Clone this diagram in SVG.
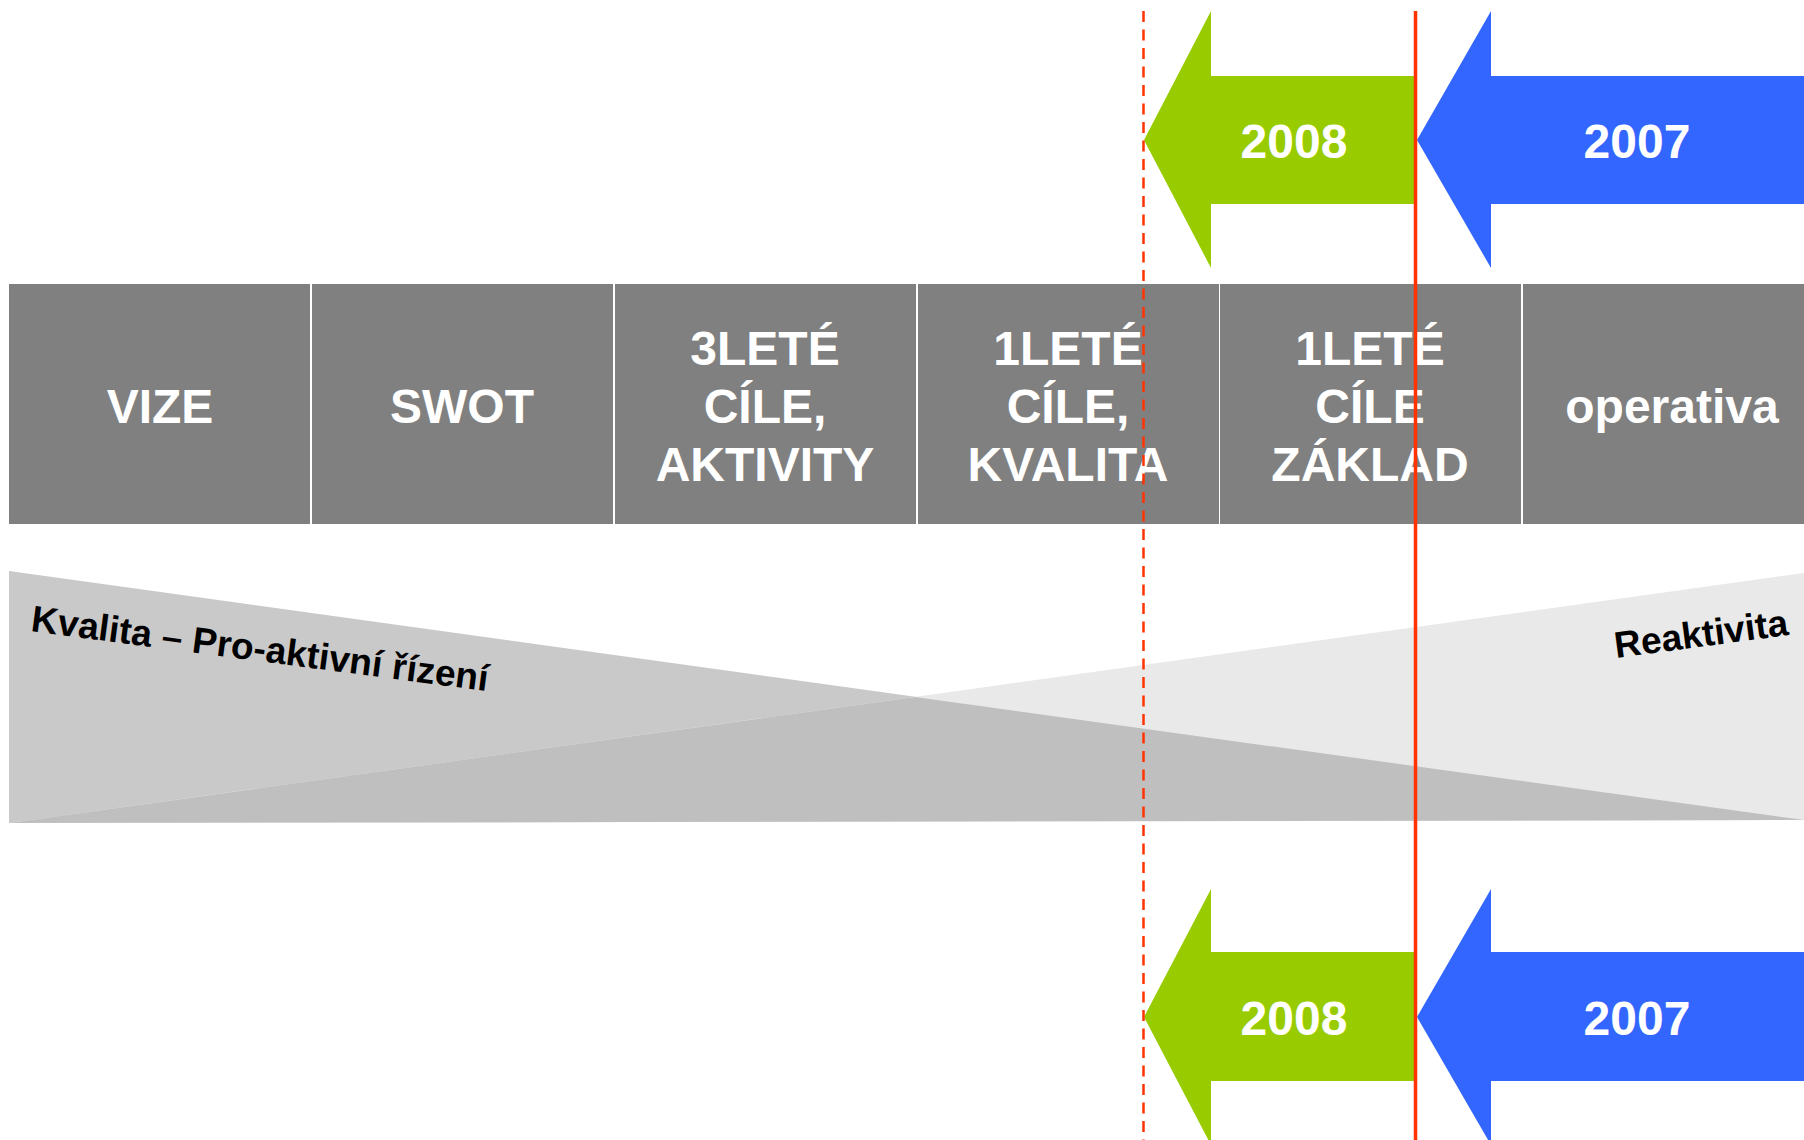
<svg xmlns="http://www.w3.org/2000/svg" width="1804" height="1140" viewBox="0 0 1804 1140">
<style>
.box{fill:#808080}
.bt{font-family:"Liberation Sans",Arial,sans-serif;font-weight:bold;font-size:48px;fill:#ffffff;text-anchor:middle}
.at{font-family:"Liberation Sans",Arial,sans-serif;font-weight:bold;font-size:48px;fill:#ffffff;text-anchor:middle}
.lt{font-family:"Liberation Sans",Arial,sans-serif;font-weight:bold;font-size:37px;fill:#000000}
.green{fill:#99CC00}
.blue{fill:#3366FF}
</style>
<rect width="1804" height="1140" fill="#ffffff"/>
<g id="wedges">
<polygon points="9,571 9,823 1804,820" fill="#C9C9C9"/>
<polygon points="9,823 1804,573 1804,820" fill="#E9E9E9"/>
<polygon points="9,823 915,697 1804,820" fill="#BFBFBF"/>
<text class="lt" x="30" y="631" transform="rotate(7.5 30 631)">Kvalita – Pro-aktivní řízení</text>
<text class="lt" x="1616" y="658" transform="rotate(-7.6 1616 658)">Reaktivita</text>
</g>
<g id="box-vize"><rect class="box" x="9" y="284" width="301" height="240"/><text class="bt" x="160" y="423">VIZE</text></g>
<g id="box-swot"><rect class="box" x="312" y="284" width="301" height="240"/><text class="bt" x="462" y="423">SWOT</text></g>
<g id="box-3lete"><rect class="box" x="615" y="284" width="301" height="240"/><text class="bt" x="765" y="365">3LETÉ</text><text class="bt" x="765" y="423">CÍLE,</text><text class="bt" x="765" y="481">AKTIVITY</text></g>
<g id="box-1lete-kvalita"><rect class="box" x="918" y="284" width="301" height="240"/><text class="bt" x="1068" y="365">1LETÉ</text><text class="bt" x="1068" y="423">CÍLE,</text><text class="bt" x="1068" y="481">KVALITA</text></g>
<g id="box-1lete-zaklad"><rect class="box" x="1220" y="284" width="301" height="240"/><text class="bt" x="1370" y="365">1LETÉ</text><text class="bt" x="1370" y="423">CÍLE</text><text class="bt" x="1370" y="481">ZÁKLAD</text></g>
<g id="box-operativa"><rect class="box" x="1523" y="284" width="281" height="240"/><text class="bt" x="1672" y="423">operativa</text></g>
<g id="arrow-2008-top"><polygon class="green" points="1144,140 1211,11 1211,76 1415,76 1415,204 1211,204 1211,268"/><text class="at" x="1294" y="158">2008</text></g>
<g id="arrow-2007-top"><polygon class="blue" points="1417,140 1491,11 1491,76 1804,76 1804,204 1491,204 1491,268"/><text class="at" x="1637" y="158">2007</text></g>
<g id="arrow-2008-bottom"><polygon class="green" points="1144,1017 1211,889 1211,952 1415,952 1415,1081 1211,1081 1211,1145"/><text class="at" x="1294" y="1035">2008</text></g>
<g id="arrow-2007-bottom"><polygon class="blue" points="1417,1017 1491,889 1491,952 1804,952 1804,1081 1491,1081 1491,1145"/><text class="at" x="1637" y="1035">2007</text></g>
<g id="connectors">
<line x1="1143.5" y1="11" x2="1143.5" y2="1140" stroke="#FF3300" stroke-width="2.5" stroke-dasharray="11,7.5"/>
<line x1="1415.5" y1="11" x2="1415.5" y2="1140" stroke="#FF3300" stroke-width="3.5"/>
</g>
</svg>
